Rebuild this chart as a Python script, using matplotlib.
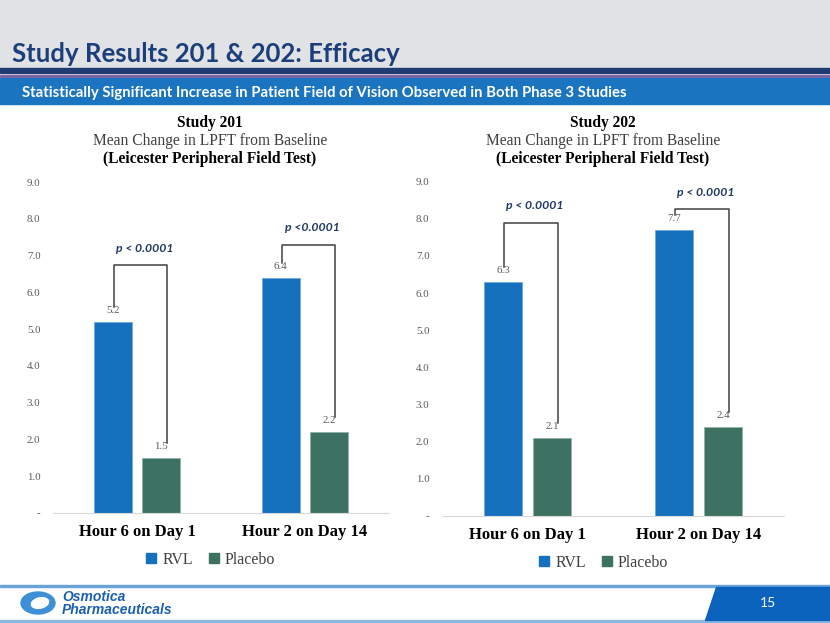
import numpy as np
import matplotlib.pyplot as plt
from matplotlib.patches import Rectangle, Polygon, Ellipse
from matplotlib.lines import Line2D

# data
categories = ["Hour 6 on Day 1", "Hour 2 on Day 14"]
series = ["RVL", "Placebo"]
rvl_201 = [5.2, 6.4]
placebo_201 = [1.5, 2.2]
rvl_202 = [6.3, 7.7]
placebo_202 = [2.1, 2.4]
pvals_201 = ["p < 0.0001", "p <0.0001"]
pvals_202 = ["p < 0.0001", "p < 0.0001"]
bracket_top_201 = [6.75, 7.3]
bracket_top_202 = [7.9, 8.27]
yticks = list(range(0, 10))

c_rvl = "#1570be"
c_pla = "#3d7263"
navy = "#1f3d73"
serif = "Liberation Serif"
sans = "Lato"

W, H = 830, 623
fig = plt.figure(figsize=(8.3, 6.23), dpi=100)


def fy(px):
    return 1 - px / H


def band(y0, y1, color, x0=0, x1=W):
    fig.patches.append(Rectangle((x0 / W, fy(y1)), (x1 - x0) / W, (y1 - y0) / H,
                                 transform=fig.transFigure, color=color, zorder=0))


# header
band(0, 68, "#e1e2e6")
band(68, 73, navy)
band(75, 77, "#8064a2")
band(78, 104, "#1b74bf")
fig.text(12 / W, fy(54), "Study Results 201 & 202: Efficacy", fontsize=18.5, fontweight="bold",
         family=sans, color="#1c3f7a", va="center")
fig.text(22 / W, fy(93), "Statistically Significant Increase in Patient Field of Vision Observed in Both Phase 3 Studies",
         fontsize=10.7, fontweight="bold", family=sans, color="white", va="center")

# footer
band(585, 587, "#6aa3d8")
band(620, 623, "#8bb8e0")
fig.patches.append(Polygon([(716 / W, fy(587)), (W / W, fy(587)), (W / W, fy(620)), (705 / W, fy(620))],
                           closed=True, transform=fig.transFigure, color="#0b63bd", zorder=0))
fig.text(768 / W, fy(603), "15", fontsize=10, color="white", family=sans, ha="center", va="center")
fig.patches.append(Ellipse((38 / W, fy(603)), 34 / W, 22 / H, angle=0, transform=fig.transFigure,
                           color="#3d8fd8", zorder=1))
fig.patches.append(Ellipse((40 / W, fy(603)), 18 / W, 10 / H, angle=25, transform=fig.transFigure,
                           color="white", zorder=2))
fig.text(62 / W, fy(597), "Osmotica", fontsize=10, fontweight="bold", style="italic",
         family="Liberation Sans", color="#1a5fb4", va="center")
fig.text(62 / W, fy(610), "Pharmaceuticals", fontsize=10, fontweight="bold", style="italic",
         family="Liberation Sans", color="#1a5fb4", va="center")


def chart(rect, rvl, pla, pvals, tops, study, title_x, legend_y):
    ax = fig.add_axes(rect)
    x = np.arange(len(categories))
    w = 0.227
    off = 0.143
    ax.bar(x - off, rvl, w, color=c_rvl, edgecolor="#6fa8dc", linewidth=0.6, zorder=2)
    ax.bar(x + off, pla, w, color=c_pla, edgecolor="#8fb3a8", linewidth=0.6, zorder=2)
    for i in x:
        for xx, v in ((i - off, rvl[i]), (i + off, pla[i])):
            ax.annotate(f"{v:.1f}", (xx, v), xytext=(0, 8), textcoords="offset points",
                        ha="center", va="center", fontsize=7.8, family=serif, color="#595959")
        xl = i - off + 0.005
        xr = i + off + 0.035
        ax.plot([xl, xl, xr, xr], [rvl[i] + 0.4, tops[i], tops[i], pla[i] + 0.4],
                color="#404040", lw=1.1, clip_on=False, zorder=3)
        ax.annotate(pvals[i], ((xl + xr) / 2, tops[i]), xytext=(3, 12), textcoords="offset points",
                    ha="center", va="center", fontsize=8.8, fontweight="bold", style="italic",
                    family=sans, color="#1f3864")
    ax.set_xlim(-0.5, 1.5)
    ax.set_ylim(0, 9)
    ax.set_yticks(yticks)
    ax.set_yticklabels(["-"] + [f"{t:.1f}" for t in yticks[1:]], fontsize=7.8, family=serif,
                       color="#595959")
    ax.set_xticks(x)
    ax.set_xticklabels(categories, fontsize=12, fontweight="bold", family=serif, color="black")
    ax.tick_params(axis="y", length=0, pad=9)
    ax.tick_params(axis="x", length=0, pad=8)
    for s in ("top", "right", "left"):
        ax.spines[s].set_visible(False)
    ax.spines["bottom"].set_color("#d9d9d9")
    ax.set_facecolor("none")

    fig.text(title_x / W, fy(123), f"Study {study}", fontsize=11.2, fontweight="bold",
             family=serif, ha="center", va="center")
    fig.text(title_x / W, fy(141), "Mean Change in LPFT from Baseline", fontsize=11.2,
             family=serif, ha="center", va="center", color="#404040")
    fig.text(title_x / W, fy(159), "(Leicester Peripheral Field Test)", fontsize=11.2,
             fontweight="bold", family=serif, ha="center", va="center")

    handles = [Line2D([], [], marker="s", ls="", color=c, markersize=7) for c in (c_rvl, c_pla)]
    fig.legend(handles, series, loc="center", bbox_to_anchor=(title_x / W, fy(legend_y)),
               ncol=2, frameon=False, prop={"family": serif, "size": 11.5}, labelcolor="#404040",
               handlelength=0.8, handletextpad=0.3, columnspacing=0.9)
    return ax


chart([53 / W, fy(513), 335.75 / W, (513 - 182) / H], rvl_201, placebo_201, pvals_201,
      bracket_top_201, 201, 210, 560)
chart([442 / W, fy(516), 342 / W, (516 - 181.7) / H], rvl_202, placebo_202, pvals_202,
      bracket_top_202, 202, 603, 563)

fig.savefig("out.png", dpi=100)
